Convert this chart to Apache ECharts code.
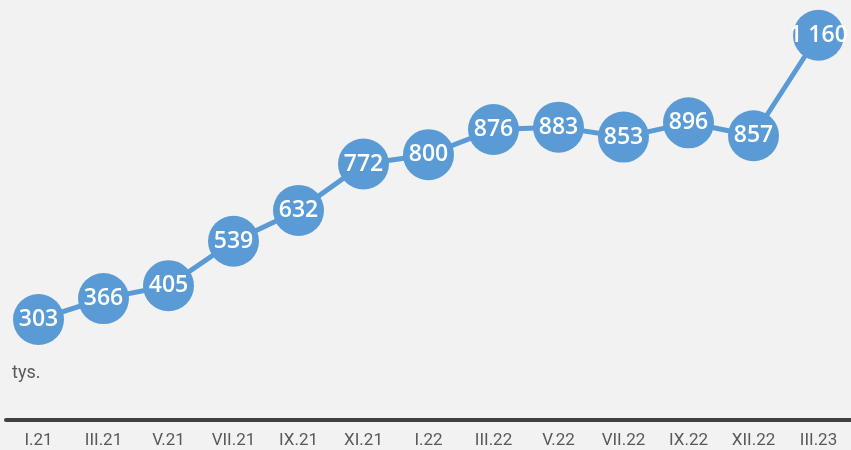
<!DOCTYPE html>
<html>
<head>
<meta charset="utf-8">
<script src="https://cdn.jsdelivr.net/npm/echarts@6/dist/echarts.min.js"></script>
<style>
  html, body { margin: 0; padding: 0; background: #f2f2f2; }
  #chart { width: 851px; height: 450px; }
</style>
</head>
<body>
<div id="chart"></div>
<script>
  // miesiące i wartości (tys.)
  const months = ['I.21', 'III.21', 'V.21', 'VII.21', 'IX.21', 'XI.21', 'I.22', 'III.22', 'V.22', 'VII.22', 'IX.22', 'XII.22', 'III.23'];
  const values = [303, 366, 405, 539, 632, 772, 800, 876, 883, 853, 896, 857, 1160];

  const chart = echarts.init(document.getElementById('chart'));
  chart.setOption({
    backgroundColor: '#f2f2f2',
    animation: false,
    grid: {
      top: 22,
      left: 6,
      right: 0,
      bottom: 30,
      containLabel: false
    },
    graphic: [{
      type: 'text',
      left: 12,
      top: 364,
      style: {
        text: 'tys.',
        fill: '#595959',
        font: '18px Roboto'
      }
    }],
    xAxis: {
      type: 'category',
      data: months,
      axisLine: {
        show: true,
        lineStyle: { color: '#404040', width: 4 }
      },
      axisTick: { show: false },
      axisLabel: {
        color: '#595959',
        fontFamily: 'Roboto',
        fontSize: 17,
        margin: 12,
        interval: 0
      }
    },
    yAxis: {
      type: 'value',
      min: 0,
      max: 1200,
      show: false,
      splitLine: { show: false }
    },
    series: [{
      type: 'line',
      data: values,
      symbol: 'circle',
      symbolSize: 51,
      lineStyle: { color: '#5b9bd5', width: 5 },
      itemStyle: { color: '#5b9bd5' },
      label: {
        show: true,
        position: 'inside',
        color: '#ffffff',
        fontFamily: 'Open Sans',
        fontWeight: 600,
        fontSize: 23,
        formatter: p => String(p.value).replace(/\B(?=(\d{3})+(?!\d))/g, ' ')
      }
    }]
  });
</script>
</body>
</html>
